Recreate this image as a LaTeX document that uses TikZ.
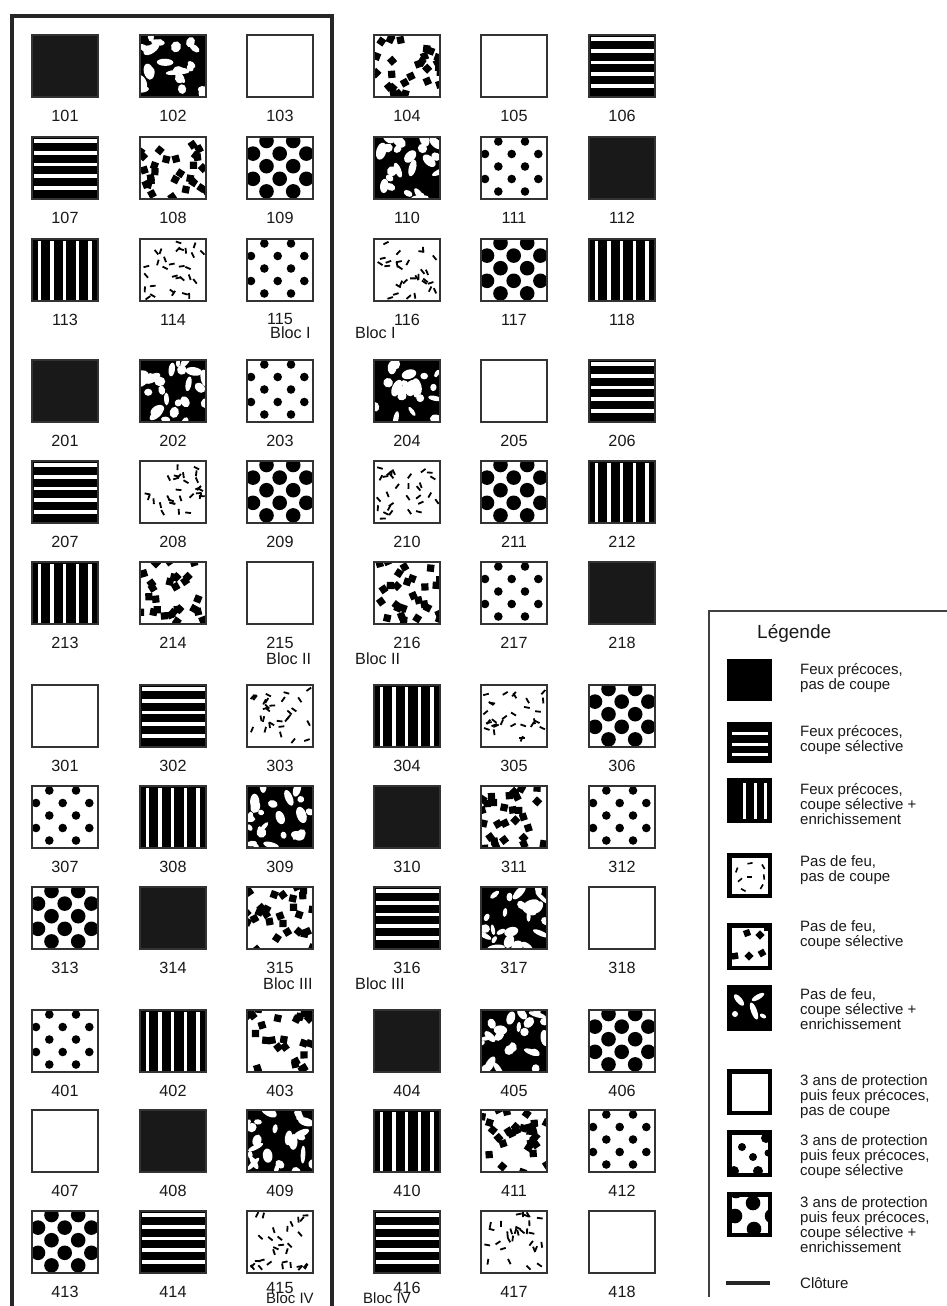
\documentclass[tikz,border=0pt]{standalone}
\usepackage{fontspec}
\setmainfont{Liberation Sans}
% ---- tile patterns, local box 66x62, origin top-left, y downwards
\newcommand\patK{\fill[black!90] (0,0) rectangle (66,62);}
\newcommand\patE{}
\newcommand\patH{\fill[black] (0,0) rectangle (66,62);\foreach \k in {0,...,4}{\fill[white] (1.5,{2+11.8*\k}) rectangle (64.5,{5.8+11.8*\k});}}
\newcommand\patV{\fill[black] (0,0) rectangle (66,62);\foreach \k in {0,...,4}{\fill[white] ({5.7+12.6*\k},1.5) rectangle ({9.2+12.6*\k},60.5);}}
\newcommand\patD{\foreach \i in {1,...,30}{\pgfmathsetmacro\px{3+60*rnd}\pgfmathsetmacro\py{3+56*rnd}\pgfmathsetmacro\pa{180*rnd}\draw[line width=1.8pt,shift={(\px,\py)},rotate=\pa] (-2.9,0) -- (2.9,0);}}
\newcommand\patS{\foreach \i in {1,...,28}{\pgfmathsetmacro\px{-1+68*rnd}\pgfmathsetmacro\py{-1+64*rnd}\pgfmathsetmacro\pa{90*rnd}\fill[shift={(\px,\py)},rotate=\pa] (-3.6,-3.6) rectangle (3.6,3.6);}}
\newcommand\patW{\fill[black] (0,0) rectangle (66,62);\foreach \i in {1,...,24}{\pgfmathsetmacro\px{66*rnd}\pgfmathsetmacro\py{62*rnd}\pgfmathsetmacro\pa{180*rnd}\pgfmathsetmacro\ra{3+6*rnd}\pgfmathsetmacro\rb{2+3*rnd}\fill[white,shift={(\px,\py)},rotate=\pa] (0,0) ellipse [x radius=\ra,y radius=\rb];}}
\newcommand\patP{\foreach \xx/\yy in {17.3/4.5,44/4.5,4/17,30.7/17,57.3/17,17.3/29.5,44/29.5,4/42,30.7/42,57.3/42,17.3/54.5,44/54.5}{\fill (\xx,\yy) circle[radius=4.3];}}
\newcommand\patG{\foreach \xx/\yy in {19.5/4,46.2/4,6/16.6,32.7/16.6,59.4/16.6,19.5/29.2,46.2/29.2,6/41.8,32.7/41.8,59.4/41.8,19.5/54.4,46.2/54.4}{\fill (\xx,\yy) circle[radius=7.3];}}
% ---- legend patterns, local origin = outer top-left of the icon
\newcommand\lpatK{\fill[black] (0,0) rectangle (45,50);}
\newcommand\lpatE{}
\newcommand\lpatH{\fill[black] (0,0) rectangle (45,50);\foreach \k in {10.3,20.8,31.3}{\fill[white] (0,\k) rectangle (45,{\k+3});}}
\newcommand\lpatV{\fill[black] (0,0) rectangle (45,50);\foreach \k in {16,26.5,37}{\fill[white] (\k,0) rectangle ({\k+3.4},50);}}
\newcommand\lpatD{\foreach \xx/\yy/\aa in {9.7/17/70,23/10.3/10,36.3/13.7/120,22.3/23.7/0,13/27/40,16.3/37/150,34.7/33.7/60,37/24/95}{\draw[line width=1.6pt,shift={(\xx,\yy)},rotate=\aa] (-2.6,0) -- (2.6,0);}}
\newcommand\lpatS{\foreach \xx/\yy/\aa in {20/10/20,33/12/45,8/33/10,22/33/45,35/30/30,40/5/0}{\fill[shift={(\xx,\yy)},rotate=\aa] (-3.2,-3.2) rectangle (3.2,3.2);}}
\newcommand\lpatW{\fill[black] (0,0) rectangle (45,50);
  \fill[white,shift={(12,15)},rotate=-50] (0,0) ellipse [x radius=7,y radius=3];
  \fill[white] (8,29) circle[radius=3];
  \fill[white,shift={(31,12)},rotate=30] (0,0) ellipse [x radius=7,y radius=2.5];
  \fill[white,shift={(27,26)},rotate=20] (0,0) ellipse [x radius=3,y radius=9];
  \fill[white,shift={(36,31)},rotate=-30] (0,0) ellipse [x radius=3.5,y radius=2];}
\newcommand\lpatP{\foreach \xx/\yy/\rr in {15/17/4,26/27/4,39/8/5,7/41/5,31/41/5,41/23/3.5}{\fill (\xx,\yy) circle[radius=\rr];}}
\newcommand\lpatG{\foreach \xx/\yy in {26/11,8/24,27/37,45/24,8/50,9/-1,44/48}{\fill (\xx,\yy) circle[radius=7.3];}}
% ---- one plot of the grid
\newcommand\tile[4]{%
  \node[tile] (t#1) at ({#2+33},{#3+31}) {};
  \begin{scope}
    \clip ({#2},{#3}) rectangle ++(66,62);
    \begin{scope}[shift={({#2},{#3})}]
      \pgfmathsetseed{#1}\csname pat#4\endcsname
    \end{scope}
  \end{scope}
  \draw[tileborder] (t#1.north west) rectangle (t#1.south east);
  \pgfmathsetmacro\ly{#3+80.5-4*or(#1==415,#1==416)}%
  \node[lab] (l#1) at ({#2+33},\ly) {#1};}
\newcommand\tilerow[2]{\foreach \id/\ty [count=\c] in {#2}{\pgfmathtruncatemacro\xx{{32,140,247,374,481,589}[\c-1]}\tile{\id}{\xx}{#1}{\ty}}}
% ---- one legend icon
\newcommand\legicon[4]{%
  \node[legbox,minimum height={#3-#2-4.5}] (#1) at (749.5,{(#2+#3)/2}) {};
  \begin{scope}
    \clip (#1.north west) rectangle (#1.south east);
    \begin{scope}[shift={(727,#2)}]
      \csname lpat#4\endcsname
    \end{scope}
  \end{scope}
  \draw[legborder] (#1.north west) rectangle (#1.south east);}
\begin{document}
\begin{tikzpicture}[x=1pt,y=-1pt,
  tile/.style={minimum width=66pt,minimum height=62pt,inner sep=0pt,outer sep=0pt},
  tileborder/.style={draw=black!80,line width=1.3pt},
  lab/.style={font=\fontsize{16.2}{17}\selectfont,inner sep=0pt,text=black!90},
  legtext/.style={font=\fontsize{15}{15}\selectfont,align=left,inner sep=0pt,anchor=west,text=black!90},
  legbox/.style={minimum width=40.5pt,inner sep=0pt,outer sep=0pt},
  legborder/.style={draw=black,line width=4.5pt},
  fence/.style={draw=black!85,line width=4pt},
  legframe/.style={draw=black!75,line width=1.3pt}]
\useasboundingbox (0,0) rectangle (947,1306);
\clip (0,0) rectangle (947,1306);
\fill[white] (0,0) rectangle (947,1306);
% grid of plots
\tilerow{35}{101/K,102/W,103/E,104/S,105/E,106/H}
\tilerow{137}{107/H,108/S,109/G,110/W,111/P,112/K}
\tilerow{239}{113/V,114/D,115/P,116/D,117/G,118/V}
\tilerow{360}{201/K,202/W,203/P,204/W,205/E,206/H}
\tilerow{461}{207/H,208/D,209/G,210/D,211/G,212/V}
\tilerow{562}{213/V,214/S,215/E,216/S,217/P,218/K}
\tilerow{685}{301/E,302/H,303/D,304/V,305/D,306/G}
\tilerow{786}{307/P,308/V,309/W,310/K,311/S,312/P}
\tilerow{887}{313/G,314/K,315/S,316/H,317/W,318/E}
\tilerow{1010}{401/P,402/V,403/S,404/K,405/W,406/G}
\tilerow{1110}{407/E,408/K,409/W,410/V,411/S,412/P}
\tilerow{1211}{413/G,414/H,415/D,416/H,417/D,418/E}
% block labels
\node[lab,anchor=west] (b1a) at (270,333) {Bloc I};
\node[lab,anchor=west] (b1b) at (355,333) {Bloc I};
\node[lab,anchor=west] (b2a) at (266,659) {Bloc II};
\node[lab,anchor=west] (b2b) at (355,659) {Bloc II};
\node[lab,anchor=west] (b3a) at (263,984) {Bloc III};
\node[lab,anchor=west] (b3b) at (355,984) {Bloc III};
\node[lab,anchor=west,font=\fontsize{15}{16}\selectfont] (b4a) at (266,1298.5) {Bloc IV};
\node[lab,anchor=west,font=\fontsize{15}{16}\selectfont] (b4b) at (363,1298.5) {Bloc IV};
% fence around the enclosed plots
\draw[fence] (12,1320) -- (12,16) -- (332,16) -- (332,1320);
% legend
\draw[legframe] (960,611) -- (709,611) -- (709,1297);
\node[font=\fontsize{19}{20}\selectfont,anchor=west,inner sep=0pt,text=black!90] (legt) at (757,633) {Légende};
\legicon{i1}{659}{701}{K}
\legicon{i2}{722}{763}{H}
\legicon{i3}{778}{823}{V}
\legicon{i4}{853}{898}{D}
\legicon{i5}{923}{970}{S}
\legicon{i6}{985}{1031}{W}
\legicon{i7}{1069}{1115}{E}
\legicon{i8}{1130}{1177}{P}
\legicon{i9}{1192}{1237}{G}
\node[legtext] (g1) at (800,678.5) {Feux précoces,\\pas de coupe};
\node[legtext] (g2) at (800,740) {Feux précoces,\\coupe sélective};
\node[legtext] (g3) at (800,804) {Feux précoces,\\coupe sélective +\\enrichissement};
\node[legtext] (g4) at (800,870.5) {Pas de feu,\\pas de coupe};
\node[legtext] (g5) at (800,935.5) {Pas de feu,\\coupe sélective};
\node[legtext] (g6) at (800,1009) {Pas de feu,\\coupe sélective +\\enrichissement};
\node[legtext] (g7) at (800,1097) {3 ans de protection\\puis feux précoces,\\pas de coupe};
\node[legtext] (g8) at (800,1157) {3 ans de protection\\puis feux précoces,\\coupe sélective};
\node[legtext] (g9) at (800,1225) {3 ans de protection\\puis feux précoces,\\coupe sélective +\\enrichissement};
\coordinate (c1) at (726,1283);
\coordinate (c2) at (770,1283);
\draw[line width=4pt,black!85] (c1) -- (c2);
\node[legtext] (g10) at (800,1283) {Clôture};
\end{tikzpicture}
\end{document}
